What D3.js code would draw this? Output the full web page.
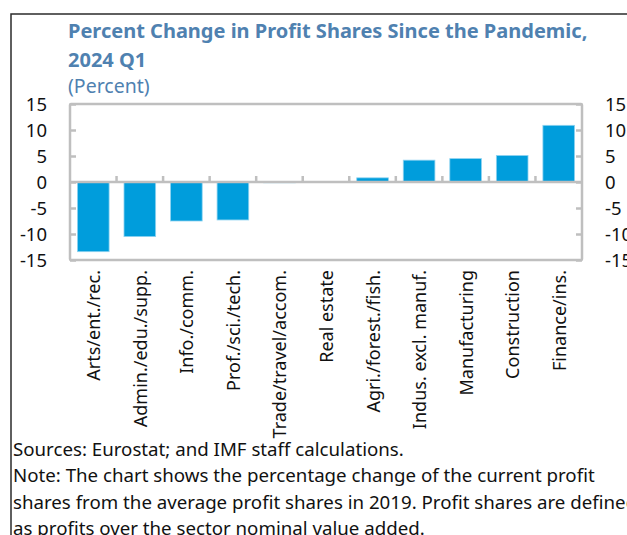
<!DOCTYPE html>
<html>
<head>
<meta charset="utf-8">
<script src="https://cdn.jsdelivr.net/npm/d3@7"></script>
<style>
  body { margin: 0; background: #fff; }
  svg { display: block; font-family: "Noto Sans", "Open Sans", sans-serif; }
</style>
</head>
<body>
<div id="chart"></div>
<script>
// sectors, sorted as in the source chart
const categories = [
  "Arts/ent./rec.", "Admin./edu./supp.", "Info./comm.", "Prof./sci./tech.",
  "Trade/travel/accom.", "Real estate", "Agri./forest./fish.",
  "Indus. excl. manuf.", "Manufacturing", "Construction", "Finance/ins."
];
const values = [-13.4, -10.5, -7.5, -7.3, -0.15, 0, 0.8, 4.2, 4.5, 5.1, 10.9];
const yTicks = [15, 10, 5, 0, -5, -10, -15];

const titleLines = ["Percent Change in Profit Shares Since the Pandemic,", "2024 Q1"];
const unitLabel = "(Percent)";
const footLines = [
  "Sources: Eurostat; and IMF staff calculations.",
  "Note: The chart shows the percentage change of the current profit",
  "shares from the average profit shares in 2019. Profit shares are defined",
  "as profits over the sector nominal value added."
];

const W = 627, H = 535;
const plot = { left: 70, right: 582, top: 104, bottom: 260 };
const blue = "#4f81b0";
const frameGrey = "#bfbfbf";

const svg = d3.select("#chart").append("svg")
  .attr("width", W).attr("height", H);

// outer box
svg.append("rect")
  .attr("x", 11).attr("y", 14)
  .attr("width", W + 20).attr("height", H + 20)
  .attr("fill", "none").attr("stroke", "#2b2b2b").attr("stroke-width", 1.5);

// title
titleLines.forEach((t, i) => {
  svg.append("text")
    .attr("x", 68).attr("y", 38 + i * 29)
    .attr("fill", blue).attr("font-weight", "bold")
    .attr("font-size", 20)
    .text(t);
});
svg.append("text")
  .attr("x", 68).attr("y", 93)
  .attr("fill", blue).attr("font-size", 19.5)
  .text(unitLabel);

const x = d3.scaleBand()
  .domain(categories)
  .range([plot.left, plot.right])
  .paddingInner(0.32)
  .paddingOuter(0.16);

const y = d3.scaleLinear()
  .domain([-15, 15])
  .range([plot.bottom, plot.top]);

// bars
svg.append("g").selectAll("rect")
  .data(categories)
  .join("rect")
  .attr("x", d => x(d))
  .attr("width", x.bandwidth())
  .attr("y", (d, i) => y(Math.max(0, values[i])))
  .attr("height", (d, i) => Math.abs(y(values[i]) - y(0)))
  .attr("fill", "#009ddc")
  .attr("stroke", (d, i) => values[i] === 0 ? "none" : "#8fd3f0")
  .attr("stroke-width", 0.8);

// frame
svg.append("rect")
  .attr("x", plot.left).attr("y", plot.top)
  .attr("width", plot.right - plot.left).attr("height", plot.bottom - plot.top)
  .attr("fill", "none").attr("stroke", frameGrey).attr("stroke-width", 2.5)
  .attr("rx", 1);

// left and right y axes (ticks pointing inward)
const axLeft = svg.append("g")
  .attr("transform", `translate(${plot.left},0)`)
  .call(d3.axisRight(y).tickValues(yTicks).tickSize(6).tickFormat(""));
axLeft.select(".domain").remove();
axLeft.selectAll("line").attr("stroke", frameGrey).attr("stroke-width", 2.5);

const axRight = svg.append("g")
  .attr("transform", `translate(${plot.right},0)`)
  .call(d3.axisLeft(y).tickValues(yTicks).tickSize(6).tickFormat(""));
axRight.select(".domain").remove();
axRight.selectAll("line").attr("stroke", frameGrey).attr("stroke-width", 2.5);

// tick labels
svg.append("g").selectAll("text")
  .data(yTicks)
  .join("text")
  .attr("x", 47).attr("y", d => y(d))
  .attr("dy", "0.36em")
  .attr("text-anchor", "end")
  .attr("font-size", 18.5).attr("fill", "#111")
  .text(d => d);
svg.append("g").selectAll("text")
  .data(yTicks)
  .join("text")
  .attr("x", 605).attr("y", d => y(d))
  .attr("dy", "0.36em")
  .attr("font-size", 18.5).attr("fill", "#111")
  .text(d => d);

// zero line with category dividers
svg.append("line")
  .attr("x1", plot.left).attr("x2", plot.right)
  .attr("y1", y(0)).attr("y2", y(0))
  .attr("stroke", frameGrey).attr("stroke-width", 2.5);

const step = x.step();
svg.append("g").selectAll("line")
  .data(categories.slice(1))
  .join("line")
  .attr("x1", d => x(d) - step * x.paddingInner() / 2)
  .attr("x2", d => x(d) - step * x.paddingInner() / 2)
  .attr("y1", y(0)).attr("y2", y(0) - 6)
  .attr("stroke", frameGrey).attr("stroke-width", 2.5);

// category labels, rotated
svg.append("g").selectAll("text")
  .data(categories)
  .join("text")
  .attr("transform", d => `translate(${x(d) + x.bandwidth() / 2 + 7},270) rotate(-90)`)
  .attr("text-anchor", "end")
  .attr("font-size", 18).attr("fill", "#111")
  .text(d => d);

// footnotes
footLines.forEach((t, i) => {
  svg.append("text")
    .attr("x", 13).attr("y", 456 + i * 26.3)
    .attr("font-size", 18.7).attr("fill", "#111")
    .text(t);
});
</script>
</body>
</html>
